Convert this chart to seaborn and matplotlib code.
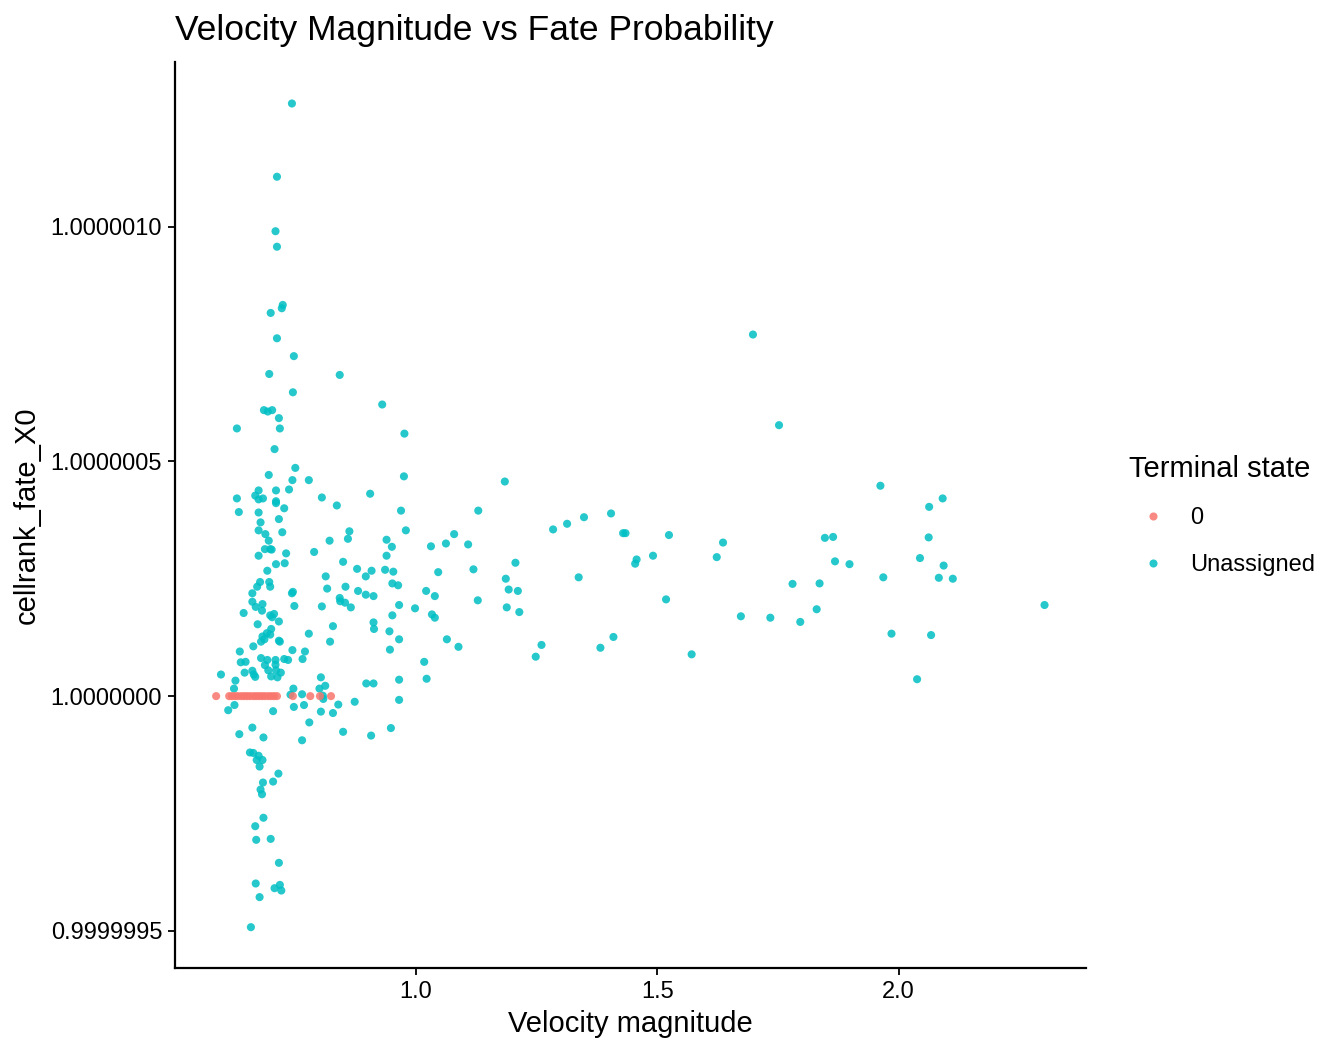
import numpy as np
import pandas as pd
import matplotlib
matplotlib.use("Agg")
import matplotlib.pyplot as plt
import matplotlib.ticker as mticker
import seaborn as sns

# Data
# fate values are stored as offsets from 1.0 in units of 1e-7
unassigned_velocity = [
    0.743, 0.712, 0.709, 0.712, 0.724, 0.722, 0.699, 0.712, 0.747, 0.696,
    0.842, 0.745, 0.930, 0.685, 0.693, 0.702, 0.716, 0.629, 0.718, 0.707,
    0.750, 0.695, 0.744, 0.778, 0.674, 0.710, 0.737, 0.629, 0.667, 0.674,
    0.683, 0.710, 0.710, 0.805, 0.905, 0.727, 0.836, 0.633, 0.674, 0.969,
    0.678, 0.716, 0.674, 0.688, 0.723, 0.695, 0.862, 0.859, 0.821, 0.939,
    0.950, 0.687, 0.698, 0.701, 0.731, 0.789, 0.674, 0.939, 0.710, 0.728,
    0.849, 0.692, 0.878, 0.896, 0.908, 0.936, 0.953, 0.813, 0.677, 0.696,
    0.671, 0.698, 0.816, 0.854, 0.880, 0.896, 0.912, 0.951, 0.963, 0.661,
    0.745, 0.743, 0.842, 0.843, 0.853, 0.865, 0.805, 0.748, 0.661, 0.682,
    0.668, 0.681, 0.643, 0.698, 0.706, 0.702, 0.716, 0.951, 0.965, 0.672,
    0.912, 0.913, 0.945, 0.828, 0.700, 0.691, 0.698, 0.682, 0.679, 0.686,
    0.716, 0.718, 0.778, 0.822, 0.663, 0.744, 0.770, 0.765, 0.946, 0.965,
    0.635, 0.637, 0.647, 0.679, 0.692, 0.709, 0.727, 0.735, 0.687, 0.709,
    0.645, 0.661, 0.664, 0.667, 0.694, 0.710, 0.720, 0.700, 0.713, 0.596,
    0.803, 0.626, 0.623, 0.746, 0.800, 0.812, 0.897, 0.912, 0.965, 0.740,
    0.764, 0.807, 0.808, 0.624, 0.611, 0.704, 0.747, 0.768, 0.803, 0.828,
    0.839, 0.873, 0.965, 0.779, 0.661, 0.634, 0.684, 0.764, 0.849, 0.907,
    0.948, 0.656, 0.663, 0.674, 0.670, 0.682, 0.676, 0.715, 0.704, 0.683,
    0.678, 0.681, 0.684, 0.667, 0.669, 0.699, 0.716, 0.668, 0.718, 0.707,
    0.721, 0.676, 0.658, 0.976, 0.975, 1.184, 1.129, 0.979, 1.284, 1.313,
    1.348, 1.404, 1.031, 1.062, 1.079, 1.108, 1.046, 1.119, 1.206, 1.337,
    1.186, 1.192, 1.211, 1.021, 1.039, 1.128, 1.188, 1.214, 0.998, 1.033,
    1.039, 1.064, 1.088, 1.260, 1.248, 1.382, 1.409, 1.017, 1.022, 1.698,
    1.752, 1.429, 1.434, 1.524, 1.636, 1.847, 1.864, 1.457, 1.454, 1.491,
    1.623, 1.868, 1.898, 1.780, 1.836, 1.518, 1.673, 1.734, 1.796, 1.830,
    1.571, 1.962, 2.091, 2.063, 2.062, 2.044, 2.093, 1.968, 2.083, 2.112,
    2.302, 1.985, 2.067, 2.038,
]
unassigned_fate_e7 = [
    12.62, 11.06, 9.90, 9.57, 8.33, 8.26, 8.16, 7.62, 7.24, 6.86,
    6.84, 6.47, 6.21, 6.09, 6.06, 6.09, 5.92, 5.70, 5.70, 5.26,
    4.86, 4.71, 4.60, 4.60, 4.38, 4.38, 4.40, 4.21, 4.27, 4.19,
    4.21, 4.15, 4.11, 4.23, 4.31, 4.00, 4.06, 3.92, 3.91, 3.95,
    3.70, 3.77, 3.53, 3.45, 3.49, 3.31, 3.51, 3.35, 3.31, 3.33,
    3.18, 3.13, 3.13, 3.12, 3.04, 3.07, 2.99, 2.99, 2.81, 2.83,
    2.86, 2.67, 2.71, 2.55, 2.67, 2.69, 2.65, 2.55, 2.43, 2.43,
    2.33, 2.33, 2.29, 2.33, 2.24, 2.16, 2.13, 2.40, 2.36, 2.19,
    2.22, 2.19, 2.09, 2.02, 1.99, 1.89, 1.91, 1.92, 2.01, 1.96,
    1.90, 1.82, 1.77, 1.72, 1.75, 1.68, 1.59, 1.72, 1.94, 1.53,
    1.57, 1.43, 1.38, 1.49, 1.43, 1.34, 1.31, 1.27, 1.16, 1.21,
    1.18, 1.16, 1.33, 1.16, 1.06, 0.98, 0.95, 0.79, 0.99, 1.21,
    0.95, 0.72, 0.73, 0.81, 0.77, 0.77, 0.79, 0.77, 0.66, 0.67,
    0.50, 0.54, 0.46, 0.41, 0.55, 0.55, 0.50, 0.42, 0.40, 0.46,
    0.40, 0.33, 0.16, 0.16, 0.16, 0.22, 0.27, 0.27, 0.35, 0.03,
    0.04, 0.01, -0.06, -0.19, -0.30, -0.32, -0.23, -0.19, -0.33, -0.36,
    -0.18, -0.12, -0.08, -0.56, -0.67, -0.81, -0.88, -0.94, -0.76, -0.84,
    -0.68, -1.20, -1.21, -1.27, -1.36, -1.36, -1.50, -1.65, -1.82, -1.84,
    -1.99, -2.09, -2.59, -2.77, -3.06, -3.04, -3.55, -3.99, -4.02, -4.09,
    -4.14, -4.28, -4.92, 5.59, 4.68, 4.57, 3.95, 3.53, 3.55, 3.67,
    3.81, 3.89, 3.19, 3.25, 3.45, 3.23, 2.64, 2.70, 2.84, 2.53,
    2.50, 2.27, 2.24, 2.24, 2.13, 2.04, 1.89, 1.79, 1.87, 1.74,
    1.67, 1.21, 1.05, 1.09, 0.84, 1.03, 1.26, 0.73, 0.37, 7.70,
    5.77, 3.47, 3.47, 3.43, 3.27, 3.37, 3.39, 2.91, 2.82, 2.99,
    2.96, 2.87, 2.81, 2.39, 2.40, 2.06, 1.70, 1.67, 1.58, 1.85,
    0.89, 4.48, 4.21, 4.03, 3.38, 2.94, 2.78, 2.53, 2.52, 2.50,
    1.94, 1.33, 1.30, 0.36,
]
terminal_velocity = [
    0.586, 0.613, 0.619, 0.625, 0.631, 0.638, 0.644, 0.650, 0.656, 0.663,
    0.669, 0.675, 0.681, 0.687, 0.694, 0.700, 0.706, 0.712, 0.745, 0.781,
    0.801, 0.824,
]
terminal_fate_e7 = [0.0] * len(terminal_velocity)

state_order = ["0", "Unassigned"]
state_colors = ["#F8766D", "#00BFC4"]
y_ticks = [0.9999995, 1.0, 1.0000005, 1.0000010]

df = pd.DataFrame({
    "velocity": unassigned_velocity + terminal_velocity,
    "fate": 1.0 + np.array(unassigned_fate_e7 + terminal_fate_e7) * 1e-7,
    "state": ["Unassigned"] * len(unassigned_velocity) + ["0"] * len(terminal_velocity),
})

sns.set_style("ticks")
plt.rcParams["font.family"] = ["Liberation Sans", "DejaVu Sans"]
plt.rcParams["text.color"] = "black"
plt.rcParams["axes.labelcolor"] = "black"

fig = plt.figure(figsize=(13.44, 10.56), dpi=100)
ax = fig.add_axes([0.130, 0.083, 0.678, 0.858])

sns.scatterplot(
    data=df, x="velocity", y="fate",
    hue="state", hue_order=state_order,
    palette=dict(zip(state_order, state_colors)),
    s=34, alpha=0.85, linewidth=0, ax=ax,
)

# ggplot-style 5% expansion
xr = df["velocity"].max() - df["velocity"].min()
yr = df["fate"].max() - df["fate"].min()
ax.set_xlim(df["velocity"].min() - 0.05 * xr, df["velocity"].max() + 0.05 * xr)
ax.set_ylim(df["fate"].min() - 0.05 * yr, df["fate"].max() + 0.05 * yr)

ax.set_xticks([1.0, 1.5, 2.0])
ax.xaxis.set_major_formatter(mticker.FormatStrFormatter("%.1f"))
ax.yaxis.set_major_locator(mticker.FixedLocator(y_ticks))
ax.yaxis.set_major_formatter(mticker.FormatStrFormatter("%.7f"))

sns.despine(ax=ax)
for side in ["left", "bottom"]:
    ax.spines[side].set_linewidth(1.6)
    ax.spines[side].set_color("black")
ax.tick_params(axis="both", length=5, width=1.3, color="black",
               labelsize=17, labelcolor="black", pad=4)

ax.set_xlabel("Velocity magnitude", fontsize=21, labelpad=5)
ax.set_ylabel("cellrank_fate_X0", fontsize=21, labelpad=7)
ax.set_title("Velocity Magnitude vs Fate Probability", fontsize=25.5,
             loc="left", pad=16)

sns.move_legend(
    ax, "center left", bbox_to_anchor=(1.024, 0.5), frameon=False,
    title="Terminal state", fontsize=17, title_fontsize=21,
    labelspacing=1.05, handletextpad=0.6, markerscale=1.0,
)
leg = ax.get_legend()
leg._legend_box.align = "left"

fig.savefig("out.png", dpi=100)
